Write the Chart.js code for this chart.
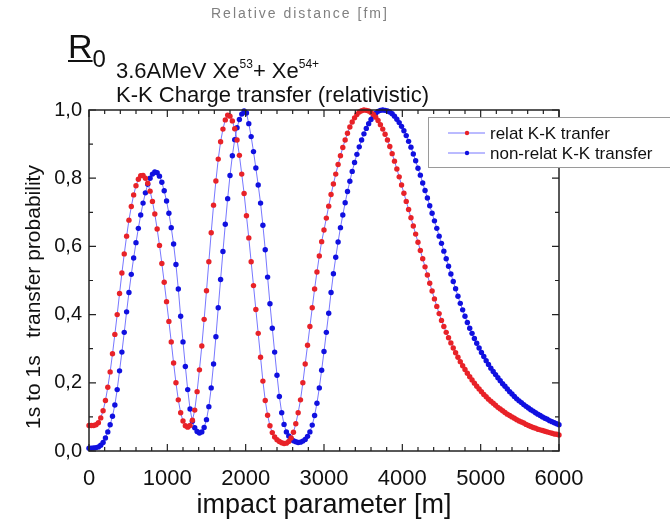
<!DOCTYPE html>
<html>
<head>
<meta charset="utf-8">
<script src="https://cdn.jsdelivr.net/npm/chart.js@4.4.1/dist/chart.umd.min.js"></script>
<style>
  html, body { margin: 0; padding: 0; background: #fff; }
  #wrap { position: relative; width: 670px; height: 528px; overflow: hidden;
          font-family: "Liberation Sans", Arial, sans-serif; color: #111; }
  #chart { position: absolute; left: 0; top: 0; }
  .txt { position: absolute; white-space: nowrap; }
  #topnote { left: 211px; top: 6px; font-size: 14px; line-height: 14px; letter-spacing: 2px; color: #808080; }
  #r0 { left: 68px; top: 29px; font-size: 34px; line-height: 34px; }
  #r0 .ul { text-decoration: underline; text-decoration-thickness: 2px; text-underline-offset: 2px; }
  #r0 .sub { font-size: 24px; position: relative; top: 9px; }
  .ttl { left: 116px; font-size: 22px; line-height: 22px; }
  #t1 { top: 60px; }
  #t2 { top: 84px; }
  .ttl sup { font-size: 12px; line-height: 0; vertical-align: 0; position: relative; top: -10px; }
</style>
</head>
<body>
<div id="wrap">
  <canvas id="chart" width="670" height="528"></canvas>
  <div class="txt" id="topnote">Relative distance [fm]</div>
  <div class="txt" id="r0"><span class="ul">R</span><span class="sub">0</span></div>
  <div class="txt ttl" id="t1">3.6AMeV Xe<sup>53</sup>+ Xe<sup>54+</sup></div>
  <div class="txt ttl" id="t2">K-K Charge transfer (relativistic)</div>
</div>
<script>
// impact parameter grid [m]
const impactParam = [
  0, 30, 60, 90, 120, 150, 180, 210, 240, 270,
  300, 330, 360, 390, 420, 450, 480, 510, 540, 570,
  600, 630, 660, 690, 720, 750, 780, 810, 840, 870,
  900, 930, 960, 990, 1020, 1050, 1080, 1110, 1140, 1170,
  1200, 1230, 1260, 1290, 1320, 1350, 1380, 1410, 1440, 1470,
  1500, 1530, 1560, 1590, 1620, 1650, 1680, 1710, 1740, 1770,
  1800, 1830, 1860, 1890, 1920, 1950, 1980, 2010, 2040, 2070,
  2100, 2130, 2160, 2190, 2220, 2250, 2280, 2310, 2340, 2370,
  2400, 2430, 2460, 2490, 2520, 2550, 2580, 2610, 2640, 2670,
  2700, 2730, 2760, 2790, 2820, 2850, 2880, 2910, 2940, 2970,
  3000, 3030, 3060, 3090, 3120, 3150, 3180, 3210, 3240, 3270,
  3300, 3330, 3360, 3390, 3420, 3450, 3480, 3510, 3540, 3570,
  3600, 3630, 3660, 3690, 3720, 3750, 3780, 3810, 3840, 3870,
  3900, 3930, 3960, 3990, 4020, 4050, 4080, 4110, 4140, 4170,
  4200, 4230, 4260, 4290, 4320, 4350, 4380, 4410, 4440, 4470,
  4500, 4530, 4560, 4590, 4620, 4650, 4680, 4710, 4740, 4770,
  4800, 4830, 4860, 4890, 4920, 4950, 4980, 5010, 5040, 5070,
  5100, 5130, 5160, 5190, 5220, 5250, 5280, 5310, 5340, 5370,
  5400, 5430, 5460, 5490, 5520, 5550, 5580, 5610, 5640, 5670,
  5700, 5730, 5760, 5790, 5820, 5850, 5880, 5910, 5940, 5970,
  6000
];

// relativistic K-K transfer probability
const relatProb = [
  0.075, 0.075, 0.075, 0.077, 0.083, 0.097, 0.118, 0.148, 0.187, 0.232,
  0.285, 0.342, 0.400, 0.462, 0.522, 0.578, 0.630, 0.677, 0.717, 0.751,
  0.778, 0.797, 0.807, 0.808, 0.800, 0.785, 0.762, 0.732, 0.695, 0.651,
  0.603, 0.550, 0.495, 0.438, 0.380, 0.320, 0.258, 0.200, 0.150, 0.112,
  0.088, 0.074, 0.070, 0.075, 0.090, 0.120, 0.174, 0.238, 0.308, 0.386,
  0.470, 0.555, 0.640, 0.721, 0.792, 0.856, 0.907, 0.944, 0.971, 0.985,
  0.982, 0.968, 0.945, 0.912, 0.867, 0.812, 0.755, 0.690, 0.625, 0.555,
  0.485, 0.415, 0.345, 0.275, 0.205, 0.148, 0.105, 0.074, 0.054, 0.041,
  0.033, 0.028, 0.024, 0.022, 0.023, 0.028, 0.038, 0.055, 0.080, 0.112,
  0.150, 0.200, 0.255, 0.310, 0.365, 0.420, 0.475, 0.525, 0.572, 0.614,
  0.648, 0.683, 0.718, 0.752, 0.783, 0.812, 0.840, 0.866, 0.890, 0.912,
  0.932, 0.950, 0.965, 0.977, 0.987, 0.994, 0.998, 1.000, 0.999, 0.997,
  0.993, 0.987, 0.979, 0.969, 0.957, 0.944, 0.929, 0.912, 0.893, 0.872,
  0.850, 0.827, 0.804, 0.780, 0.756, 0.732, 0.708, 0.684, 0.660, 0.636,
  0.612, 0.588, 0.564, 0.540, 0.516, 0.492, 0.469, 0.446, 0.424, 0.403,
  0.383, 0.365, 0.348, 0.332, 0.317, 0.302, 0.288, 0.275, 0.262, 0.250,
  0.239, 0.228, 0.218, 0.208, 0.199, 0.190, 0.182, 0.174, 0.166, 0.159,
  0.152, 0.146, 0.140, 0.134, 0.128, 0.123, 0.118, 0.113, 0.108, 0.104,
  0.100, 0.096, 0.092, 0.088, 0.085, 0.082, 0.078, 0.075, 0.072, 0.069,
  0.067, 0.064, 0.062, 0.060, 0.058, 0.056, 0.054, 0.052, 0.050, 0.049,
  0.047
];

// non-relativistic K-K transfer probability
const nonRelatProb = [
  0.008, 0.008, 0.009, 0.010, 0.012, 0.017, 0.025, 0.038, 0.056, 0.077,
  0.102, 0.135, 0.180, 0.235, 0.290, 0.348, 0.408, 0.465, 0.518, 0.566,
  0.611, 0.653, 0.692, 0.727, 0.757, 0.782, 0.800, 0.812, 0.818, 0.816,
  0.806, 0.788, 0.763, 0.733, 0.697, 0.655, 0.607, 0.547, 0.475, 0.395,
  0.320, 0.248, 0.180, 0.123, 0.087, 0.068, 0.057, 0.053, 0.056, 0.069,
  0.092, 0.130, 0.185, 0.255, 0.335, 0.420, 0.503, 0.585, 0.665, 0.740,
  0.808, 0.866, 0.913, 0.948, 0.972, 0.988, 0.997, 0.991, 0.960, 0.922,
  0.878, 0.830, 0.780, 0.727, 0.662, 0.590, 0.510, 0.432, 0.360, 0.290,
  0.222, 0.160, 0.112, 0.078, 0.056, 0.044, 0.036, 0.030, 0.027, 0.025,
  0.026, 0.029, 0.034, 0.043, 0.056, 0.076, 0.104, 0.140, 0.185, 0.237,
  0.292, 0.348, 0.404, 0.465, 0.520, 0.568, 0.613, 0.655, 0.692, 0.728,
  0.761, 0.791, 0.820, 0.846, 0.870, 0.892, 0.912, 0.930, 0.946, 0.960,
  0.972, 0.982, 0.990, 0.996, 0.999, 1.000, 0.999, 0.997, 0.994, 0.989,
  0.982, 0.973, 0.963, 0.952, 0.939, 0.925, 0.908, 0.891, 0.871, 0.851,
  0.829, 0.809, 0.786, 0.764, 0.742, 0.719, 0.697, 0.675, 0.653, 0.630,
  0.609, 0.586, 0.564, 0.542, 0.519, 0.497, 0.476, 0.454, 0.433, 0.414,
  0.395, 0.377, 0.360, 0.345, 0.330, 0.316, 0.302, 0.289, 0.277, 0.265,
  0.254, 0.243, 0.233, 0.224, 0.215, 0.206, 0.197, 0.190, 0.182, 0.174,
  0.167, 0.160, 0.153, 0.147, 0.142, 0.136, 0.131, 0.126, 0.121, 0.117,
  0.112, 0.108, 0.104, 0.100, 0.096, 0.093, 0.089, 0.086, 0.083, 0.080,
  0.077
];

const xTickLabels = ['0', '1000', '2000', '3000', '4000', '5000', '6000'];
const yTickLabels = ['0,0', '0,2', '0,4', '0,6', '0,8', '1,0'];
const seriesNames = ['relat K-K tranfer', 'non-relat K-K transfer'];

const FONT = '"Liberation Sans", Arial, sans-serif';
const LINE_COLOR = 'rgba(95, 95, 255, 0.85)';
const RED = '#e82228';
const BLUE = '#1010e0';

const toPoints = (ys) => impactParam.map((x, i) => ({ x: x, y: ys[i] }));

// frame, inward ticks, axis titles and the boxed legend
const framePlugin = {
    id: 'frame',
    afterDatasetsDraw(chart) {
        const { ctx, chartArea: a, scales: { x, y } } = chart;
        ctx.save();
        ctx.strokeStyle = '#222';
        ctx.lineWidth = 1.5;
        ctx.strokeRect(a.left, a.top, a.right - a.left, a.bottom - a.top);

        ctx.lineWidth = 1.2;
        ctx.beginPath();
        for (let v = x.min; v <= x.max; v += 200) {
            const px = x.getPixelForValue(v);
            const len = v % 1000 === 0 ? 7 : 4;
            ctx.moveTo(px, a.bottom); ctx.lineTo(px, a.bottom - len);
            ctx.moveTo(px, a.top); ctx.lineTo(px, a.top + len);
        }
        for (let i = 0; i <= 10; i++) {
            const py = y.getPixelForValue(i / 10);
            const len = i % 2 === 0 ? 7 : 4;
            ctx.moveTo(a.left, py); ctx.lineTo(a.left + len, py);
            ctx.moveTo(a.right, py); ctx.lineTo(a.right - len, py);
        }
        ctx.stroke();

        // axis titles
        ctx.fillStyle = '#111';
        ctx.font = '27px ' + FONT;
        ctx.textAlign = 'center';
        ctx.textBaseline = 'alphabetic';
        ctx.fillText('impact parameter [m]', (a.left + a.right) / 2, 513);

        ctx.save();
        ctx.translate(40, 297);
        ctx.rotate(-Math.PI / 2);
        ctx.font = '21px ' + FONT;
        ctx.fillText('1s to 1s   transfer probability', 0, 0);
        ctx.restore();

        // legend
        const lx = 428, ly = 117;
        ctx.fillStyle = '#fff';
        ctx.fillRect(lx, ly, 260, 50);
        ctx.strokeStyle = '#9a9a9a';
        ctx.lineWidth = 1;
        ctx.strokeRect(lx + 0.5, ly + 0.5, 260, 50);
        ctx.font = '17px ' + FONT;
        ctx.textAlign = 'left';
        chart.data.datasets.forEach((ds, i) => {
            const cy = ly + 16 + i * 20;
            ctx.strokeStyle = LINE_COLOR;
            ctx.beginPath();
            ctx.moveTo(lx + 20, cy); ctx.lineTo(lx + 57, cy);
            ctx.stroke();
            ctx.fillStyle = ds.pointBackgroundColor;
            ctx.beginPath();
            ctx.arc(lx + 39, cy, 2.2, 0, Math.PI * 2);
            ctx.fill();
            ctx.fillStyle = '#111';
            ctx.fillText(ds.label, lx + 62, cy + 6);
        });
        ctx.restore();
    }
};

const dataset = (label, ys, color) => ({
    label: label,
    data: toPoints(ys),
    borderColor: LINE_COLOR,
    borderWidth: 1,
    pointRadius: 2.7,
    pointBorderWidth: 0,
    pointBackgroundColor: color,
    pointBorderColor: color,
    tension: 0,
    clip: false
});

new Chart(document.getElementById('chart'), {
    type: 'line',
    data: {
        datasets: [
            dataset(seriesNames[0], relatProb, RED),
            dataset(seriesNames[1], nonRelatProb, BLUE)
        ]
    },
    options: {
        responsive: false,
        devicePixelRatio: 1,
        animation: false,
        layout: { padding: { top: 110, right: 111, bottom: 0, left: 0 } },
        plugins: { legend: { display: false }, tooltip: { enabled: false }, title: { display: false } },
        scales: {
            x: {
                type: 'linear', min: 0, max: 6000,
                afterFit: (s) => { s.height = 77; },
                grid: { display: false, drawTicks: false },
                border: { display: false },
                ticks: {
                    stepSize: 1000, padding: 15, color: '#111', maxRotation: 0,
                    font: { family: FONT, size: 22 },
                    callback: (v, i) => xTickLabels[i]
                }
            },
            y: {
                min: 0, max: 1,
                afterFit: (s) => { s.width = 89; },
                grid: { display: false, drawTicks: false },
                border: { display: false },
                ticks: {
                    stepSize: 0.2, padding: 7, color: '#111',
                    font: { family: FONT, size: 20 },
                    callback: (v, i) => yTickLabels[i]
                }
            }
        }
    },
    plugins: [framePlugin]
});
</script>
</body>
</html>
